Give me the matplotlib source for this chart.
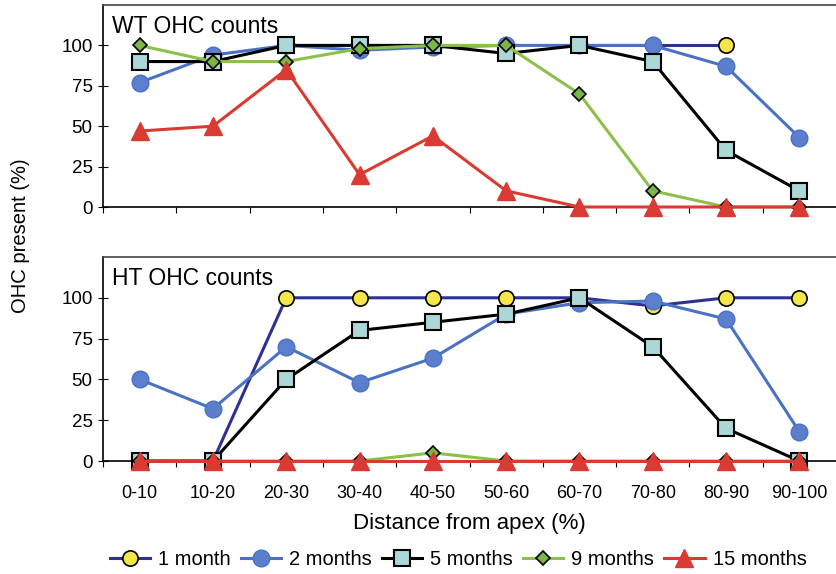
import numpy as np
import matplotlib
matplotlib.use('Agg')
import matplotlib.pyplot as plt

plt.rcParams['font.family'] = ['Liberation Sans', 'DejaVu Sans']

nan = np.nan
bins = ['0-10', '10-20', '20-30', '30-40', '40-50', '50-60', '60-70', '70-80', '80-90', '90-100']
labels = ['1 month', '2 months', '5 months', '9 months', '15 months']

# WT panel
wt_1m = [nan, nan, nan, nan, nan, nan, 100, 100, 100, nan]
wt_2m = [77, 94, 100, 97, 99, 100, 100, 100, 87, 43]
wt_5m = [90, 90, 100, 100, 100, 95, 100, 90, 35, 10]
wt_9m = [100, 90, 90, 98, 100, 100, 70, 10, 0, 0]
wt_15m = [47, 50, 85, 20, 44, 10, 0, 0, 0, 0]

# HT panel
ht_1m = [0, 0, 100, 100, 100, 100, 100, 95, 100, 100]
ht_2m = [50, 32, 70, 48, 63, 90, 97, 98, 87, 18]
ht_5m = [0, 0, 50, 80, 85, 90, 100, 70, 20, 0]
ht_9m = [0, 0, 0, 0, 5, 0, 0, 0, 0, 0]
ht_15m = [0, 0, 0, 0, 0, 0, 0, 0, 0, 0]

styles = [
    dict(color='#2e3192', marker='o', mfc='#f5e64a', mec='black', ms=11, mew=1.2),
    dict(color='#4a72c4', marker='o', mfc='#5b7fcc', mec='#4a72c4', ms=12, mew=1),
    dict(color='black', marker='s', mfc='#abd7d6', mec='black', ms=11, mew=1.5),
    dict(color='#8cc04a', marker='D', mfc='#7ab648', mec='black', ms=7, mew=1.2),
    dict(color='#d93a32', marker='^', mfc='#d93a32', mec='#d93a32', ms=13, mew=1),
]

fig = plt.figure(figsize=(8.36, 5.74), dpi=100)
ax1 = fig.add_axes([103/836, 1 - 207/574, 1 - 103/836, 202/574])
ax2 = fig.add_axes([103/836, 1 - 461/574, 1 - 103/836, 204/574])

x = np.arange(len(bins))
handles = []
for ax, data, title in [(ax1, [wt_1m, wt_2m, wt_5m, wt_9m, wt_15m], 'WT OHC counts'),
                        (ax2, [ht_1m, ht_2m, ht_5m, ht_9m, ht_15m], 'HT OHC counts')]:
    for i, (vals, st) in enumerate(zip(data, styles)):
        h, = ax.plot(x, vals, lw=2.2, label=labels[i], clip_on=False, zorder=3 + i, **st)
        if ax is ax1:
            handles.append(h)
    ax.set_xlim(-0.5, 9.5)
    ax.set_ylim(0, 125)
    ax.set_yticks([0, 25, 50, 75, 100])
    ax.set_xticks(np.arange(-0.5, 9.5, 1.0))
    ax.set_xticks(x, minor=True)
    ax.tick_params(axis='x', which='major', direction='out', length=4, labelbottom=False)
    ax.tick_params(axis='x', which='minor', length=0, labelsize=13, pad=17)
    ax.tick_params(axis='y', direction='inout', length=7, labelsize=13.5, pad=4)
    ax.spines['right'].set_visible(False)
    for s in ['left', 'top', 'bottom']:
        ax.spines[s].set_linewidth(1.2)
    ax.spines['top'].set_color('#444444')
    ax.text(0.012, 0.95, title, transform=ax.transAxes, fontsize=16.5, va='top', ha='left')

ax1.set_xticklabels([], minor=True)
ax2.set_xticklabels(bins, minor=True)
ax2.set_xlabel('Distance from apex (%)', fontsize=16, labelpad=8)
fig.text(0.025, 0.59, 'OHC present (%)', rotation=90, fontsize=14.5, va='center', ha='center')

fig.legend(handles=handles, loc='center', bbox_to_anchor=(0.548, 0.026), ncol=5, frameon=False,
           fontsize=14.5, handlelength=2.0, handletextpad=0.4, columnspacing=0.5, borderaxespad=0)

fig.savefig('out.png', dpi=100)
